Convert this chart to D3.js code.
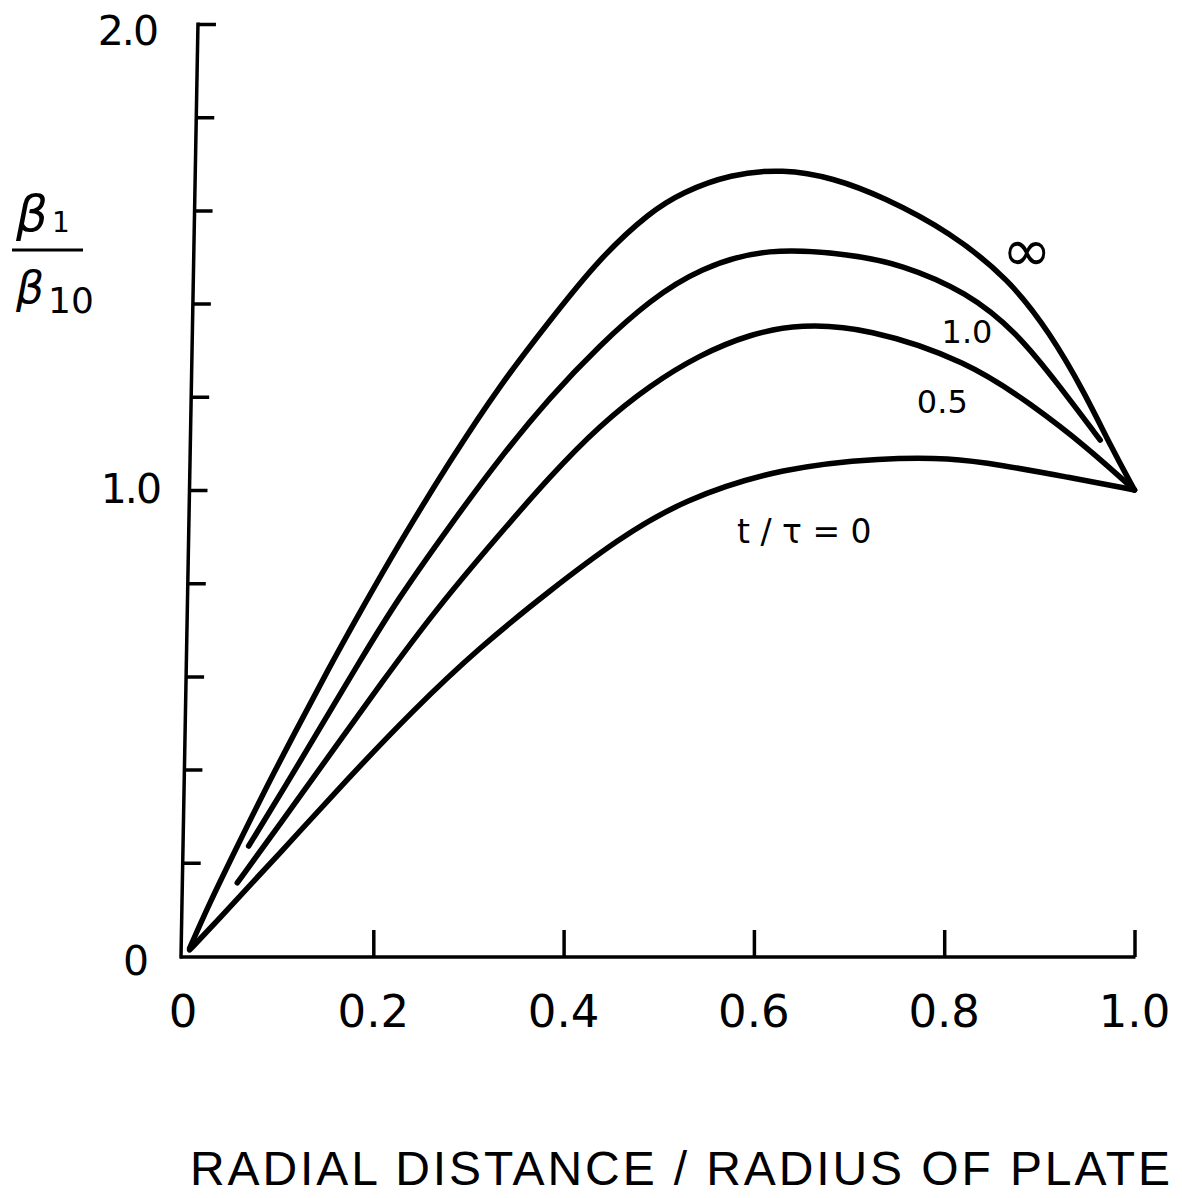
<!DOCTYPE html>
<html>
<head>
<meta charset="utf-8">
<script src="https://cdn.jsdelivr.net/npm/d3@7"></script>
<style>
  body { margin: 0; background: #fff; }
  svg { display: block; }
</style>
</head>
<body>
<script>
// Ratio β1/β10 against radial position, one curve per value of t/τ
const xInf = [0.007, 0.028, 0.055, 0.086, 0.118, 0.151, 0.186, 0.228, 0.281, 0.333, 0.386, 0.438, 0.491, 0.525, 0.575, 0.631, 0.683, 0.736, 0.806, 0.869, 0.911, 0.946, 0.977, 1.0];
const yInf = [0.017, 0.114, 0.227, 0.356, 0.481, 0.609, 0.738, 0.888, 1.064, 1.225, 1.365, 1.498, 1.597, 1.639, 1.678, 1.689, 1.670, 1.629, 1.554, 1.451, 1.337, 1.215, 1.086, 1.0];

const x10 = [0.069, 0.109, 0.147, 0.186, 0.225, 0.281, 0.333, 0.386, 0.438, 0.491, 0.543, 0.614, 0.701, 0.754, 0.824, 0.877, 0.922, 0.964];
const y10 = [0.236, 0.369, 0.500, 0.633, 0.764, 0.925, 1.069, 1.200, 1.311, 1.408, 1.476, 1.521, 1.506, 1.485, 1.425, 1.337, 1.221, 1.107];

const x05 = [0.057, 0.102, 0.154, 0.207, 0.267, 0.333, 0.386, 0.438, 0.491, 0.543, 0.596, 0.649, 0.719, 0.824, 0.893, 0.950, 1.0];
const y05 = [0.157, 0.283, 0.431, 0.582, 0.747, 0.906, 1.030, 1.139, 1.225, 1.290, 1.335, 1.356, 1.348, 1.277, 1.182, 1.092, 1.0];

const x00 = [0.007, 0.032, 0.102, 0.172, 0.242, 0.312, 0.386, 0.456, 0.525, 0.631, 0.736, 0.806, 0.859, 0.929, 1.0];
const y00 = [0.013, 0.067, 0.221, 0.378, 0.528, 0.663, 0.785, 0.893, 0.979, 1.049, 1.069, 1.069, 1.054, 1.028, 1.0];

const seriesLabels = ["\u221E", "1.0", "0.5", "t / \u03C4 = 0"];

const xTickValues = [0.2, 0.4, 0.6, 0.8, 1.0];
const xLabelValues = [0, 0.2, 0.4, 0.6, 0.8, 1.0];
const xLabelText = ["0", "0.2", "0.4", "0.6", "0.8", "1.0"];

const yTickValues = [0.2, 0.4, 0.6, 0.8, 1.0, 1.2, 1.4, 1.6, 1.8, 2.0];
const yLabelValues = [0, 1.0, 2.0];
const yLabelText = ["0", "1.0", "2.0"];

const xTitle = "RADIAL DISTANCE / RADIUS OF PLATE";

const W = 1182, H = 1198;
const font = "'DejaVu Sans', sans-serif";

const svg = d3.select("body").append("svg")
  .attr("width", W).attr("height", H)
  .style("background", "#fff");

const x = d3.scaleLinear().domain([0, 1]).range([183, 1134.5]);
const y = d3.scaleLinear().domain([0, 2]).range([956, 24]);

// x axis: ticks point up into the plot
const xAxisG = svg.append("g")
  .attr("transform", "translate(0,957)")
  .call(d3.axisBottom(x).tickValues(xTickValues).tickSizeInner(-27).tickSizeOuter(0).tickFormat(""));
xAxisG.select(".domain")
  .attr("d", `M${x(0) - 3},0H${x(1) + 1}`)
  .attr("stroke", "#000").attr("stroke-width", 3.5);
xAxisG.selectAll(".tick line").attr("stroke", "#000").attr("stroke-width", 3.5);

// y axis: drawn with a slight lean, ticks point right
const lean = Math.atan((198 - 181) / (22 - 957)) * 180 / Math.PI;
const yAxisG = svg.append("g")
  .attr("transform", `translate(${181 - Math.tan(lean * Math.PI / 180) * 957},0) skewX(${lean})`)
  .call(d3.axisRight(y).tickValues(yTickValues).tickSizeInner(18).tickSizeOuter(0).tickFormat(""));
yAxisG.select(".domain")
  .attr("d", `M0,${y(0) + 2.5}V${y(2) - 1.5}`)
  .attr("stroke", "#000").attr("stroke-width", 3.5);
yAxisG.selectAll(".tick line").attr("stroke", "#000").attr("stroke-width", 3.5);

// tick labels
svg.append("g").selectAll("text").data(xLabelValues).join("text")
  .attr("x", d => x(d))
  .attr("y", 1027)
  .attr("text-anchor", "middle")
  .attr("font-family", font).attr("font-size", 45)
  .text((d, i) => xLabelText[i]);

const yLabelRight = [147, 160, 157];
const yLabelBase = [975, 503, 45];
svg.append("g").selectAll("text").data(yLabelValues).join("text")
  .attr("x", (d, i) => yLabelRight[i])
  .attr("y", (d, i) => yLabelBase[i])
  .attr("text-anchor", "end")
  .attr("font-family", font).attr("font-size", 41)
  .attr("letter-spacing", -2)
  .text((d, i) => yLabelText[i]);

// curves
const series = [
  { xs: xInf, ys: yInf },
  { xs: x10, ys: y10 },
  { xs: x05, ys: y05 },
  { xs: x00, ys: y00 }
];
const line = d3.line()
  .x(d => x(d[0]))
  .y(d => y(d[1]))
  .curve(d3.curveBasis);

svg.append("g").selectAll("path").data(series).join("path")
  .attr("d", s => line(s.xs.map((v, i) => [v, s.ys[i]])))
  .attr("fill", "none")
  .attr("stroke", "#000")
  .attr("stroke-width", 5.5)
  .attr("stroke-linecap", "round")
  .attr("stroke-linejoin", "round");

// curve labels
const labelAt = [
  { vx: 0.887, vy: 1.515, size: 60 },
  { vx: 0.824, vy: 1.339, size: 32 },
  { vx: 0.798, vy: 1.189, size: 32 },
  { vx: 0.653, vy: 0.912, size: 33 }
];
svg.append("g").selectAll("text").data(labelAt).join("text")
  .attr("x", d => x(d.vx))
  .attr("y", d => y(d.vy))
  .attr("text-anchor", "middle")
  .attr("dominant-baseline", "central")
  .attr("font-family", font)
  .attr("font-size", d => d.size)
  .text((d, i) => seriesLabels[i]);

// y axis title: β1 over β10
const yTitle = svg.append("g").attr("font-family", font);
const numer = yTitle.append("text").attr("x", 16).attr("y", 231).attr("font-size", 50);
numer.append("tspan").attr("font-style", "italic").text("\u03B2");
numer.append("tspan").attr("font-size", 28).attr("dx", 4).attr("dy", 1).text("1");
yTitle.append("line")
  .attr("x1", 12).attr("x2", 83).attr("y1", 250).attr("y2", 250)
  .attr("stroke", "#000").attr("stroke-width", 3);
const denom = yTitle.append("text").attr("x", 16).attr("y", 303).attr("font-size", 44);
denom.append("tspan").attr("font-style", "italic").text("\u03B2");
denom.append("tspan").attr("font-size", 36).attr("dx", 4).attr("dy", 10).text("10");

// x axis title
svg.append("text")
  .attr("x", 190).attr("y", 1185)
  .attr("font-family", "'Liberation Sans', sans-serif")
  .attr("font-size", 48)
  .attr("textLength", 980)
  .attr("lengthAdjust", "spacing")
  .text(xTitle);
</script>
</body>
</html>
